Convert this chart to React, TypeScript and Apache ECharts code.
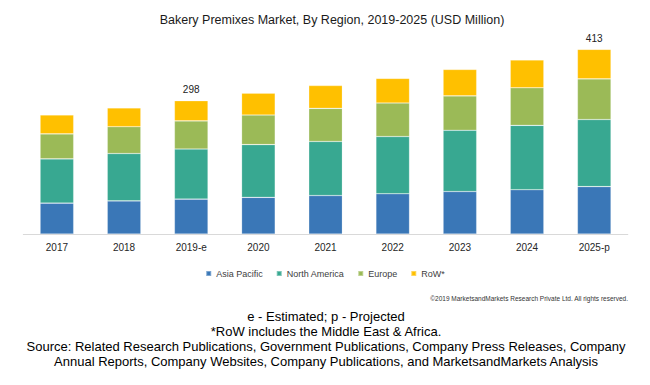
import React, { useEffect, useRef } from "react";
import * as echarts from "echarts";

const categories = ["2017", "2018", "2019-e", "2020", "2021", "2022", "2023", "2024", "2025-p"];
const asiaPacific = [69, 74, 78, 82, 86, 90, 95, 99, 106];
const northAmerica = [99, 106, 112, 118, 121, 128, 137, 144, 150];
const europe = [56, 60, 63, 66, 74, 75, 77, 84, 91];
const row = [42, 42, 45, 49, 51, 55, 59, 62, 66];
const labeledIndexes = [2, 8];

const seriesNames = ["Asia Pacific", "North America", "Europe", "RoW*"];
const seriesColors = ["#3A77B7", "#38A891", "#9BBA57", "#FFC000"];

const FONT = "'Liberation Sans', Arial, sans-serif";

export default function App() {
  const ref = useRef<HTMLDivElement>(null);

  useEffect(() => {
    if (!ref.current) return;
    const chart = echarts.init(ref.current, undefined, { renderer: "svg" });
    const data = [asiaPacific, northAmerica, europe, row];
    const totals = categories.map((_, i) => data.reduce((s, arr) => s + arr[i], 0));

    chart.setOption({
      animation: false,
      backgroundColor: "#ffffff",
      textStyle: { fontFamily: FONT },
      title: {
        text: "Bakery Premixes Market, By Region, 2019-2025 (USD Million)",
        left: 327,
        textAlign: "center",
        top: 8,
        textStyle: { fontSize: 12.5, fontWeight: "normal", color: "#1a1a1a", fontFamily: FONT },
      },
      legend: {
        data: seriesNames,
        left: "center",
        top: 264,
        icon: "rect",
        itemWidth: 5,
        itemHeight: 5,
        itemGap: 13,
        textStyle: { fontSize: 9, color: "#404040", fontFamily: FONT },
      },
      grid: { left: 23.3, right: 22.2, top: 32.8, bottom: 151, containLabel: false },
      xAxis: {
        type: "category",
        data: categories,
        axisLine: { lineStyle: { color: "#D9D9D9", width: 1 } },
        axisTick: { show: false },
        axisLabel: { fontSize: 10, color: "#262626", margin: 8, fontFamily: FONT },
      },
      yAxis: {
        type: "value",
        min: 0,
        max: 450,
        show: false,
        splitLine: { show: false },
      },
      series: data.map((arr, si) => ({
        name: seriesNames[si],
        type: "bar",
        stack: "total",
        barWidth: "50%",
        data: arr,
        itemStyle: {
          color: seriesColors[si],
          borderColor: "rgba(255,255,255,0.35)",
          borderWidth: 0.6,
        },
        label:
          si === 3
            ? {
                show: true,
                position: "top",
                distance: 6,
                fontSize: 10,
                color: "#222222",
                fontFamily: FONT,
                formatter: (p: any) =>
                  labeledIndexes.includes(p.dataIndex) ? String(totals[p.dataIndex]) : "",
              }
            : { show: false },
      })),
      graphic: [
        {
          type: "text",
          x: 628,
          y: 298,
          style: {
            text: "©2019 MarketsandMarkets Research Private Ltd. All rights reserved.",
            fontSize: 6.5,
            fill: "#333333",
            fontFamily: FONT,
            textAlign: "right",
            textVerticalAlign: "middle",
          },
        },
        {
          type: "text",
          x: 326,
          y: 316,
          style: {
            text: "e - Estimated; p - Projected",
            fontSize: 13,
            fill: "#000000",
            fontFamily: FONT,
            textAlign: "center",
            textVerticalAlign: "middle",
          },
        },
        {
          type: "text",
          x: 326,
          y: 331,
          style: {
            text: "*RoW includes the Middle East & Africa.",
            fontSize: 13,
            fill: "#000000",
            fontFamily: FONT,
            textAlign: "center",
            textVerticalAlign: "middle",
          },
        },
        {
          type: "text",
          x: 326,
          y: 346,
          style: {
            text: "Source: Related Research Publications, Government Publications, Company Press Releases, Company",
            fontSize: 13,
            fill: "#000000",
            fontFamily: FONT,
            textAlign: "center",
            textVerticalAlign: "middle",
          },
        },
        {
          type: "text",
          x: 326,
          y: 361,
          style: {
            text: "Annual Reports, Company Websites, Company Publications, and MarketsandMarkets Analysis",
            fontSize: 13,
            fill: "#000000",
            fontFamily: FONT,
            textAlign: "center",
            textVerticalAlign: "middle",
          },
        },
      ],
    });

    return () => chart.dispose();
  }, []);

  return (
    <div
      ref={ref}
      style={{ position: "fixed", left: 0, top: 0, width: 650, height: 385, background: "#fff" }}
    />
  );
}
